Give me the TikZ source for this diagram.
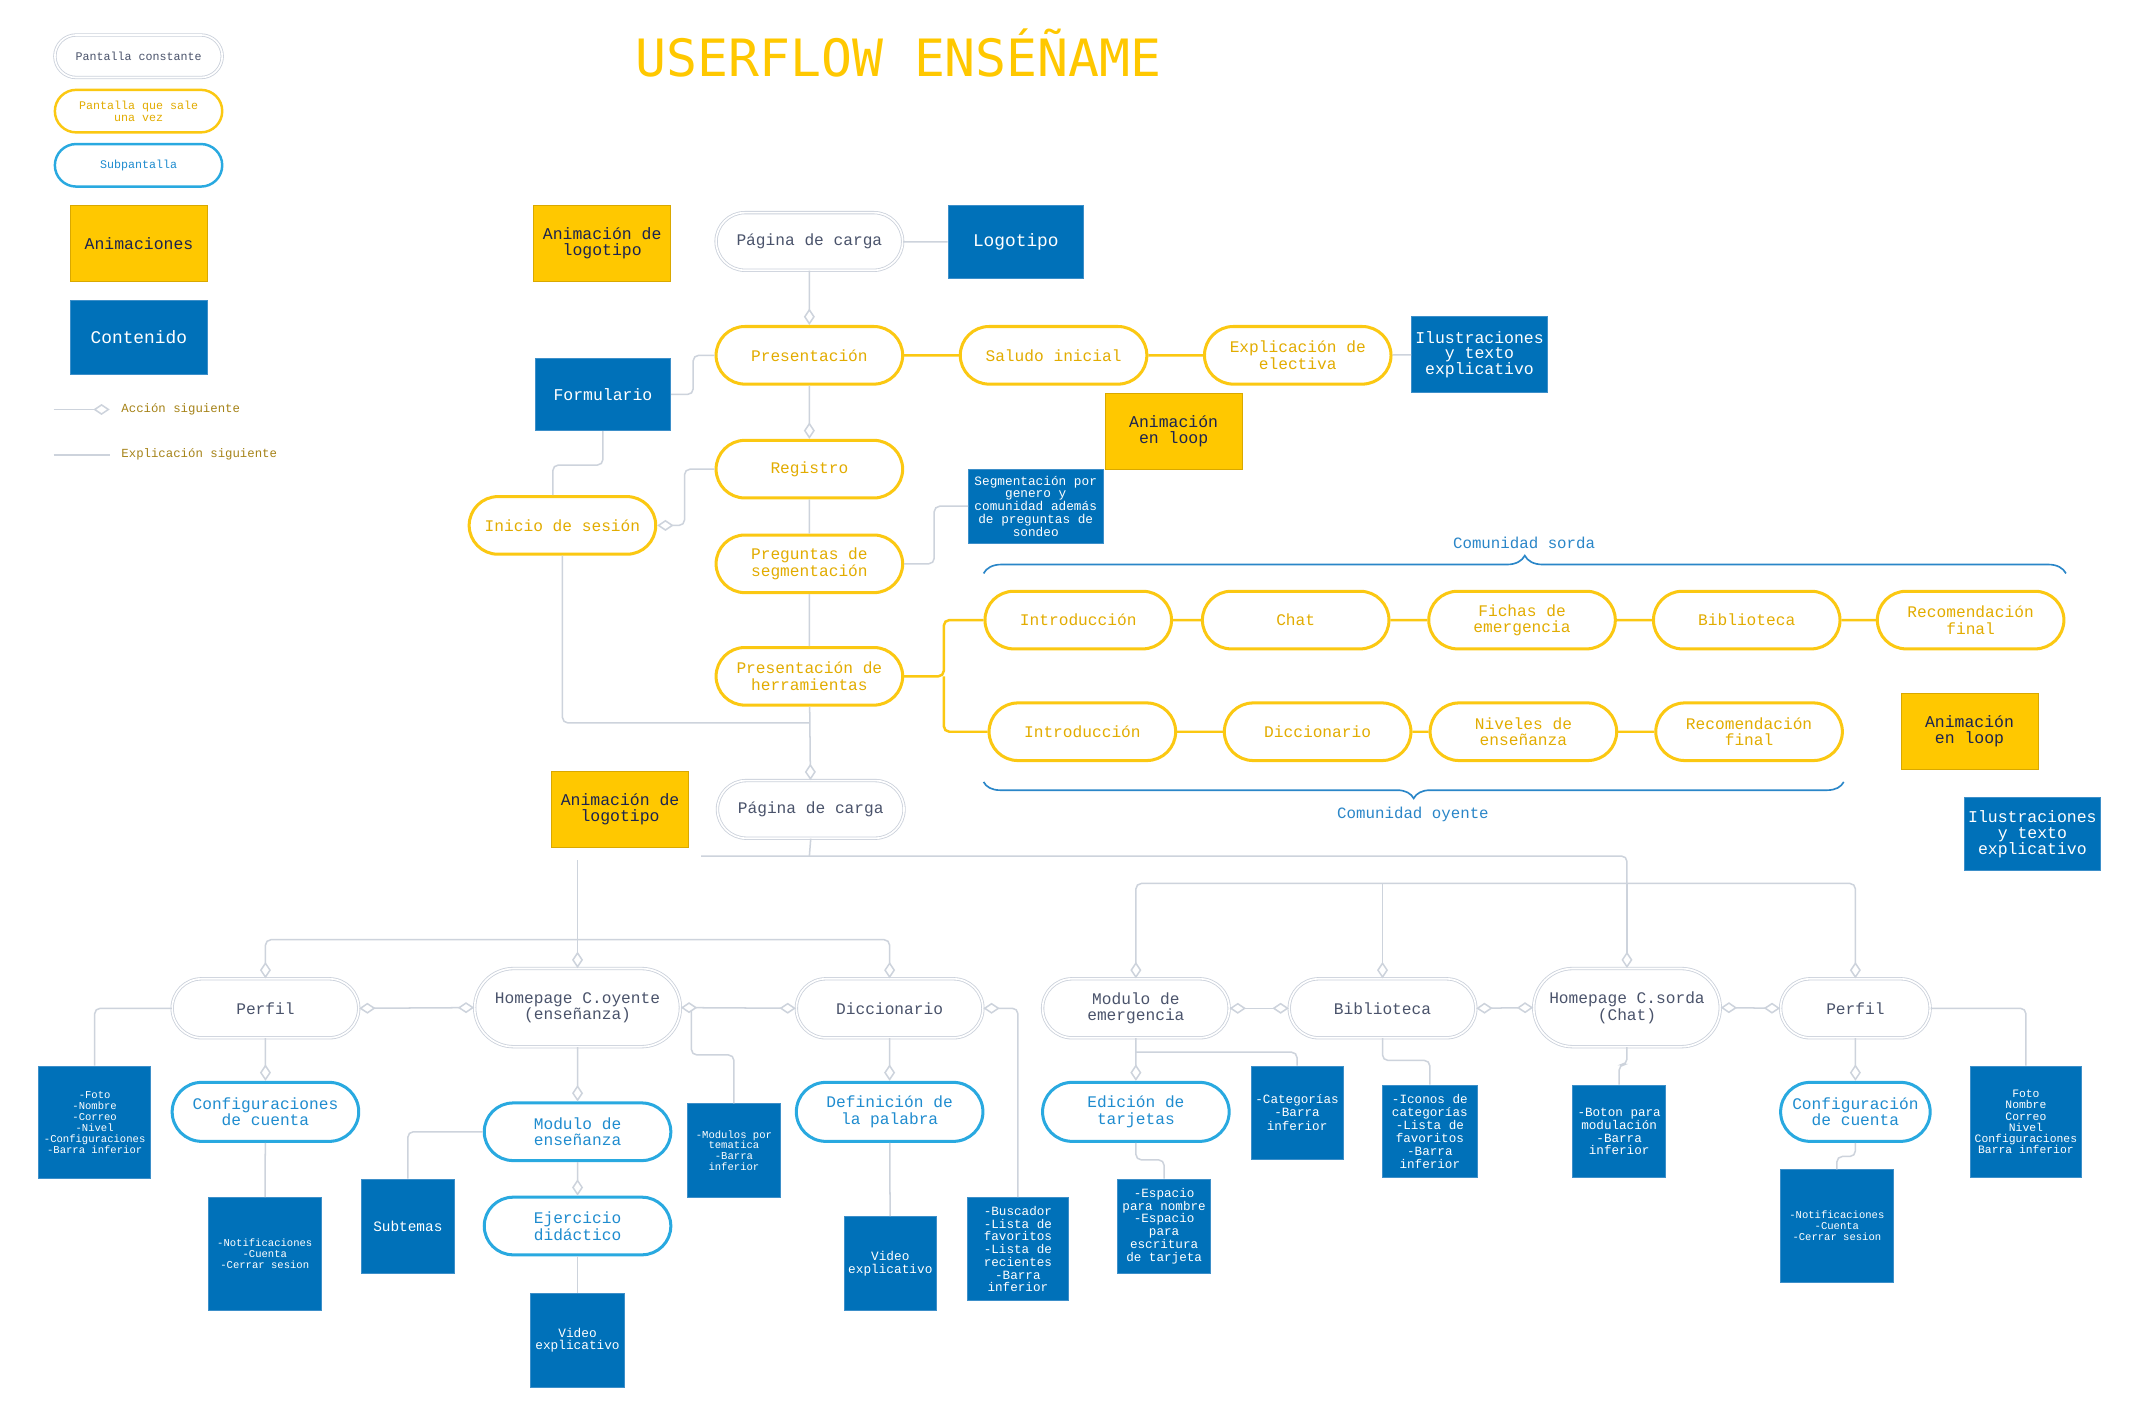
\documentclass[tikz,border=0pt]{standalone}
\usepackage{fontspec}
\setmainfont{Liberation Mono}
\newfontfamily\titlefont{DejaVu Sans Mono}
\usetikzlibrary{shapes.misc,arrows.meta,decorations.pathreplacing}
\definecolor{ylw}{HTML}{FFC800}
\definecolor{ylwdark}{HTML}{D9A800}
\definecolor{ylwline}{HTML}{FBC812}
\definecolor{ytext}{HTML}{E2AC00}
\definecolor{bluebox}{HTML}{0071B9}
\definecolor{blueedge}{HTML}{3D8FC9}
\definecolor{subblue}{HTML}{29A9E0}
\definecolor{btext}{HTML}{1F8CCF}
\definecolor{pgray}{HTML}{CBD1DB}
\definecolor{gtext}{HTML}{4A536B}
\definecolor{lineg}{HTML}{CDD3DC}
\definecolor{navy}{HTML}{1B2350}
\definecolor{bracec}{HTML}{2A86C8}
\newcommand\fsz[2]{\fontsize{#1}{#2}\selectfont}
\tikzset{
 pillbase/.style={rounded rectangle, minimum width=138pt, minimum height=42pt, align=center, fill=white, inner sep=1pt, font=\fsz{11.8}{12}},
 ypill/.style={pillbase, draw=ylwline, line width=2.2pt, text=ytext},
 gpill/.style={pillbase, draw=pgray, line width=0.6pt, double=white, double distance=1.2pt, text=gtext},
 bpill/.style={pillbase, draw=subblue, line width=2.2pt, text=btext},
 ybox/.style 2 args={rectangle, fill=ylw, draw=ylwdark, line width=0.6pt, text=navy, align=center, inner sep=0pt, minimum width=#1pt, minimum height=#2pt, font=\fsz{12}{11.5}},
 bbox/.style 2 args={rectangle, fill=bluebox, draw=blueedge, line width=0.6pt, text=white, align=center, inner sep=0pt, minimum width=#1pt, minimum height=#2pt, font=\fsz{12}{11.5}},
 gl/.style={draw=lineg, line width=1.1pt, rounded corners=4pt},
 yl/.style={draw=ylwline, line width=1.8pt, rounded corners=4pt},
 dend/.style={arrows={-Diamond[length=12pt,width=8pt,fill=white]}},
 dstart/.style={arrows={Diamond[length=12pt,width=8pt,fill=white]-}},
 dboth/.style={arrows={Diamond[length=12pt,width=8pt,fill=white]-Diamond[length=12pt,width=8pt,fill=white]}},
 bracestyle/.style={draw=bracec, line width=1.2pt, decorate},
}
\begin{document}
\begin{tikzpicture}[x=1pt,y=-1pt]
\fill[white] (0,0) rectangle (1568,1029);
\useasboundingbox (0,0) rectangle (1568,1029);

% title
\node[font=\titlefont\fsz{37.5}{40}, text=ylw] (title) at (655,39) {USERFLOW ENSÉÑAME};

% legend
\node[gpill, minimum width=124pt, minimum height=31pt, font=\fsz{8.5}{9}] (lg1) at (101,41) {Pantalla constante};
\node[ypill, minimum width=124pt, minimum height=31pt, line width=1.8pt, font=\fsz{8.5}{9}] (lg2) at (101,81) {Pantalla que sale\\una vez};
\node[bpill, minimum width=124pt, minimum height=31pt, line width=1.8pt, font=\fsz{8.5}{9}] (lg3) at (101,120.5) {Subpantalla};
\node[ybox={100}{55}] (lg4) at (101.3,177.3) {Animaciones};
\node[bbox={100}{54}, font=\fsz{13}{13}] (lg5) at (101.2,245.8) {Contenido};
\coordinate (la0) at (39,298.5);
\coordinate (la1) at (80,298.5);
\draw[gl,dend] (la0) -- (la1);
\node[anchor=west, text=ytext!70!navy, font=\fsz{9}{9}] (lat) at (85,298.5) {Acción siguiente};
\coordinate (le0) at (39,331.5);
\coordinate (le1) at (80,331.5);
\draw[gl] (le0) -- (le1);
\node[anchor=west, text=ytext!70!navy, font=\fsz{9}{9}] (let) at (85,331.5) {Explicación siguiente};

% top flow
\node[ybox={100}{55}] (anim1) at (439,177.5) {Animación de\\logotipo};
\node[gpill] (pc1) at (590,176) {Página de carga};
\node[bbox={99}{53}, font=\fsz{13}{13}] (logo) at (740.5,176.5) {Logotipo};
\node[ypill] (pres) at (590,259) {Presentación};
\node[ypill] (sal) at (768,259) {Saludo inicial};
\node[ypill] (expl) at (946,259) {Explicación de\\electiva};
\node[bbox={99}{55}] (ilus1) at (1078.5,258.5) {Ilustraciones\\y texto\\explicativo};
\node[ybox={100}{55}] (loop1) at (855.5,314.5) {Animación\\en loop};
\node[bbox={99}{53}] (form) at (439.5,287.5) {Formulario};
\node[ypill] (reg) at (590,342) {Registro};
\node[ypill] (ini) at (410,383) {Inicio de sesión};
\node[ypill] (preg) at (590,411) {Preguntas de\\segmentación};
\node[bbox={98}{54}, font=\fsz{9.3}{9.3}] (seg) at (755,369) {Segmentación por\\genero y\\comunidad además\\de preguntas de\\sondeo};
\node[ypill] (herr) at (590,493) {Presentación de\\herramientas};
\node[gpill] (pc2) at (591,590) {Página de carga};
\node[ybox={100}{55}] (anim2) at (452,590) {Animación de\\logotipo};

% comunidades
\node[ypill] (i1) at (786,452) {Introducción};
\node[ypill] (chat) at (944.5,452) {Chat};
\node[ypill] (fich) at (1109.5,452) {Fichas de\\emergencia};
\node[ypill] (bib) at (1273.3,452) {Biblioteca};
\node[ypill] (rec1) at (1436.5,452) {Recomendación\\final};
\node[ypill] (i2) at (789,533.4) {Introducción};
\node[ypill] (dic) at (960.5,533.4) {Diccionario};
\node[ypill] (niv) at (1110.5,533.4) {Niveles de\\enseñanza};
\node[ypill] (rec2) at (1275,533.4) {Recomendación\\final};
\node[ybox={100}{55}] (loop2) at (1435.7,533.3) {Animación\\en loop};
\node[bbox={99}{53}] (ilus2) at (1481.5,608) {Ilustraciones\\y texto\\explicativo};

\draw[bracestyle, decoration={brace, amplitude=13pt}] (717,418) -- (1506,418);
\node[text=bracec, font=\fsz{11.5}{12}] (csorda) at (1111,396) {Comunidad sorda};
\draw[bracestyle, decoration={brace, amplitude=12pt}] (1344,570) -- (717,570);
\node[text=bracec, font=\fsz{11.5}{12}] (coyente) at (1030,593.7) {Comunidad oyente};

% top connectors
\draw[gl] (pc1) -- (logo);
\draw[gl,dend] (pc1) -- (pres);
\draw[yl] (pres) -- (sal);
\draw[yl] (sal) -- (expl);
\draw[gl] (expl) -- (ilus1);
\draw[gl] (form.east) -- ++(16,0) |- (pres.west);
\draw[gl,dend] (pres) -- (reg);
\coordinate (c1) at (403,339);
\draw[gl] (form.south) |- (c1) -- (c1 |- ini.north);
\draw[gl] (reg) -- (preg);
\draw[gl] (preg.east) -- (681,411) |- (seg.west);
\draw[gl] (preg) -- (herr);
\coordinate (j1) at (590,527);
\draw[gl] (ini.south) |- (j1);
\draw[gl,dend] (herr) -- (pc2);
\draw[gl,dstart] (ini.east) -- (499,383) |- (reg.west);
\coordinate (hs0) at (688,493);
\draw[yl] (herr.east) -- (hs0) |- (i1.west);
\draw[yl] (hs0) |- (i2.west);
\draw[yl] (i1) -- (chat);
\draw[yl] (chat) -- (fich);
\draw[yl] (fich) -- (bib);
\draw[yl] (bib) -- (rec1);
\draw[yl] (i2) -- (dic);
\draw[yl] (dic) -- (niv);
\draw[yl] (niv) -- (rec2);

% bottom nodes
\node[gpill, minimum height=43pt] (pf1) at (193.5,735) {Perfil};
\node[gpill, minimum width=152pt, minimum height=57pt] (ho) at (421,734.5) {Homepage C.oyente\\(enseñanza)};
\node[gpill, minimum height=43pt] (dc) at (648.5,735) {Diccionario};
\node[gpill, minimum height=43pt] (me) at (828,735) {Modulo de\\emergencia};
\node[gpill, minimum height=43pt] (bi) at (1007.8,735) {Biblioteca};
\node[gpill, minimum height=57pt] (hs) at (1186,734.5) {Homepage C.sorda\\(Chat)};
\node[gpill, minimum width=111pt, minimum height=43pt] (pf2) at (1352.5,735) {Perfil};

\node[bpill, minimum height=43pt] (cfg1) at (193.5,810.5) {Configuraciones\\de cuenta};
\node[bpill] (me1) at (421,825) {Modulo de\\enseñanza};
\node[bpill] (ej) at (421,893.7) {Ejercicio\\didáctico};
\node[bpill, minimum height=43pt] (def) at (648.5,810.5) {Definición de\\la palabra};
\node[bpill, minimum height=43pt] (ed) at (828,810.5) {Edición de\\tarjetas};
\node[bpill, minimum width=111pt, minimum height=43pt] (cfg2) at (1352.5,810.5) {Configuración\\de cuenta};

\node[bbox={82}{82}, font=\fsz{7.7}{8}] (foto1) at (69,818) {-Foto\\-Nombre\\-Correo\\-Nivel\\-Configuraciones\\-Barra inferior};
\node[bbox={82}{82}, font=\fsz{7.7}{8}] (not1) at (193,914) {-Notificaciones\\-Cuenta\\-Cerrar sesion};
\node[bbox={67.5}{68.5}, font=\fsz{10.5}{11}] (sub) at (297.3,893.7) {Subtemas};
\node[bbox={68}{68}, font=\fsz{9.3}{9.3}] (vid1) at (421,977) {Video\\explicativo};
\node[bbox={68}{68}, font=\fsz{7.7}{7.8}] (mods) at (535,838.6) {-Modulos por\\tematica\\-Barra\\inferior};
\node[bbox={67.5}{68.5}, font=\fsz{9.3}{9.3}] (vid2) at (649,921) {Video\\explicativo};
\node[bbox={74}{75}, font=\fsz{9.2}{9.3}] (busc) at (742,910.5) {-Buscador\\-Lista de\\favoritos\\-Lista de\\recientes\\-Barra\\inferior};
\node[bbox={67}{68}, font=\fsz{9.2}{9.5}] (cat) at (945.5,811) {-Categorías\\-Barra\\inferior};
\node[bbox={68}{68.5}, font=\fsz{9.2}{9.3}] (esp) at (848.6,893.7) {-Espacio\\para nombre\\-Espacio\\para\\escritura\\de tarjeta};
\node[bbox={68.6}{67.6}, font=\fsz{9.2}{9.4}] (ico) at (1042.3,824.8) {-Iconos de\\categorías\\-Lista de\\favoritos\\-Barra\\inferior};
\node[bbox={68}{67.6}, font=\fsz{9.2}{9.4}] (bot) at (1180.3,824.8) {-Boton para\\modulación\\-Barra\\inferior};
\node[bbox={82}{82}, font=\fsz{7.7}{8}] (not2) at (1339,893.7) {-Notificaciones\\-Cuenta\\-Cerrar sesion};
\node[bbox={81.5}{81.6}, font=\fsz{8.3}{8.2}] (foto2) at (1476.8,817.8) {Foto\\Nombre\\Correo\\Nivel\\Configuraciones\\Barra inferior};

% bottom trunk connectors
\coordinate (j2) at (590,624);
\coordinate (lfree) at (511,624);
\coordinate (r0) at (1186,624);
\coordinate (r1) at (1186,644);
\draw[gl] (pc2.south) -- (j2);
\draw[gl] (lfree) -- (r0) -- (r1);
\draw[gl,dend] (r1) -- (hs.north);
\draw[gl,dend] (r1) -| (me.north);
\draw[gl,dend] (r1) -| (pf2.north);
\draw[gl,dend] (bi.north |- r1) -- (bi.north);
\coordinate (l0) at (421,627);
\coordinate (l1) at (421,685);
\draw[gl] (l0) -- (l1);
\draw[gl,dend] (l1) -| (pf1.north);
\draw[gl,dend] (l1) -- (ho.north);
\draw[gl,dend] (l1) -| (dc.north);

% branches
\coordinate (hb) at (504,734.5);
\draw[gl] (hb) -- (504,769) -| (mods.north);
\draw[gl,dboth] (pf1.east) -- (ho.west);
\draw[gl,dboth] (ho.east) -- (dc.west);
\draw[gl,dstart] (dc.east) -| (busc.north);
\draw[gl,dboth] (me.east) -- (bi.west);
\draw[gl,dboth] (bi.east) -- (hs.west);
\draw[gl,dboth] (hs.east) -- (pf2.west);
\draw[gl] (pf1.west) -| (foto1.north);
\draw[gl,dend] (pf1) -- (cfg1);
\draw[gl] (cfg1) -- (not1);
\draw[gl,dend] (ho) -- (me1);
\draw[gl] (me1.west) -| (sub.north);
\draw[gl,dend] (me1) -- (ej);
\draw[gl] (ej) -- (vid1);
\draw[gl,dend] (dc) -- (def);
\draw[gl] (def) -- (vid2);
\coordinate (mb) at (828,767);
\draw[gl,dend] (me) -- (ed);
\draw[gl] (mb) -| (cat.north);
\draw[gl] (ed.south) -- (828,845.5) -| (esp.north);
\draw[gl] (bi.south) -- (1007.8,773) -| (ico.north);
\draw[gl] (hs.south) -- (1186,776) -| (bot.north);
\draw[gl,dend] (pf2) -- (cfg2);
\draw[gl] (cfg2.south) -- (1352.5,843) -| (not2.north);
\draw[gl] (pf2.east) -| (foto2.north);
\end{tikzpicture}
\end{document}
